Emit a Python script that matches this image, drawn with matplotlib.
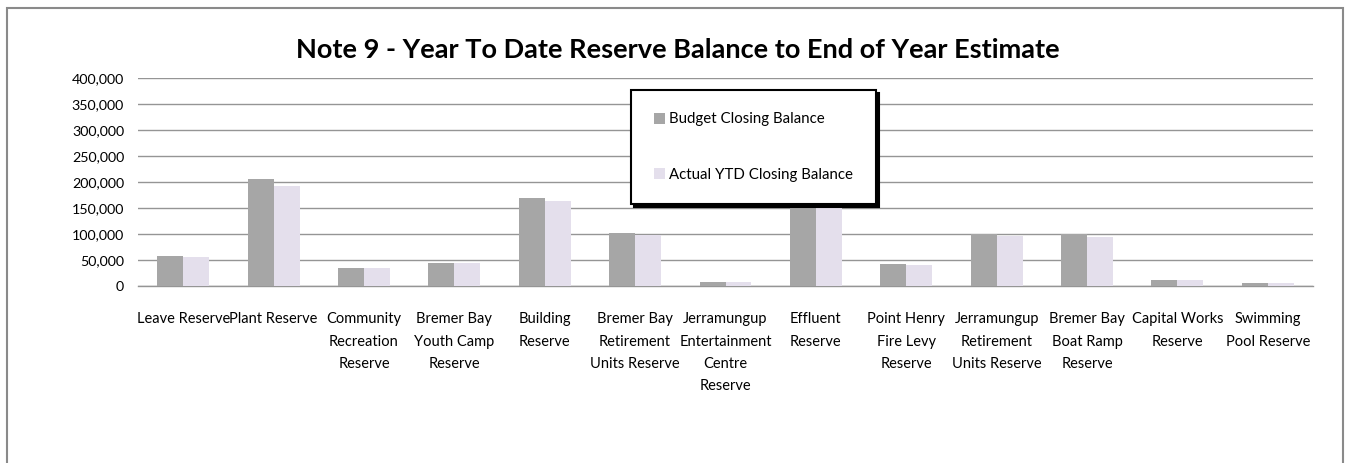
import matplotlib
matplotlib.use("Agg")
import matplotlib.pyplot as plt
import numpy as np
from matplotlib.patches import Rectangle
from matplotlib.ticker import FuncFormatter

categories = [
    "Leave Reserve", "Plant Reserve", "Community\nRecreation\nReserve",
    "Bremer Bay\nYouth Camp\nReserve", "Building\nReserve",
    "Bremer Bay\nRetirement\nUnits Reserve",
    "Jerramungup\nEntertainment\nCentre\nReserve", "Effluent\nReserve",
    "Point Henry\nFire Levy\nReserve", "Jerramungup\nRetirement\nUnits Reserve",
    "Bremer Bay\nBoat Ramp\nReserve", "Capital Works\nReserve",
    "Swimming\nPool Reserve",
]
budget = [58000, 206000, 35000, 44000, 169000, 102000, 7700, 185000,
          42000, 99500, 99500, 11500, 5800]
actual = [56000, 192000, 35000, 44000, 163000, 98000, 7500, 180000,
          40000, 96000, 94000, 11500, 5500]
series_names = ["Budget Closing Balance", "Actual YTD Closing Balance"]
yticks = [0, 50000, 100000, 150000, 200000, 250000, 300000, 350000, 400000]
title = "Note 9 - Year To Date Reserve Balance to End of Year Estimate"

W, H = 1349, 463
plt.rcParams['font.family'] = ['Lato', 'DejaVu Sans']
fig = plt.figure(figsize=(W / 100, H / 100), dpi=100)

# outer chart border
fig.patches.append(Rectangle((7 / W, -0.1), (1343 - 7) / W, 1.1 - 8 / H,
                             transform=fig.transFigure, fill=False,
                             edgecolor='#8a8a8a', linewidth=1.5))

ax = fig.add_axes([138 / W, (H - 286) / H, 1175 / W, 208 / H])
x = np.arange(len(categories))
bw = 0.2875
ax.bar(x - bw / 2, budget, width=bw, color='#A6A6A6', label=series_names[0], zorder=3)
ax.bar(x + bw / 2, actual, width=bw, color='#E4DFEC', label=series_names[1], zorder=3)

ax.set_xlim(-0.5, len(categories) - 0.5)
ax.set_ylim(0, 400000)
ax.set_yticks(yticks)
ax.yaxis.set_major_formatter(FuncFormatter(lambda v, p: f"{int(v):,}"))
ax.grid(axis='y', color='#959595', linewidth=1, zorder=0)
ax.set_axisbelow(True)
for s in ['left', 'right', 'top']:
    ax.spines[s].set_visible(False)
ax.spines['bottom'].set_color('#959595')
ax.spines['bottom'].set_linewidth(1)
ax.tick_params(axis='y', length=0, labelsize=10.3, pad=10)
ax.tick_params(axis='x', length=0, labelsize=10.5, pad=19)
ax.set_xticks(x)
ax.set_xticklabels(categories, linespacing=1.75, va='top')

fig.text(0.5 * (298 + 1057) / W, 1 - 50 / H, title, ha='center', va='center',
         fontsize=19.5, fontweight='bold')

leg = ax.legend(loc='upper left', bbox_to_anchor=(631 / W, 1 - 90 / H),
                bbox_transform=fig.transFigure, fontsize=10.8, handlelength=0.75,
                handleheight=0.75, handletextpad=0.3, labelspacing=2.75,
                borderpad=1.5, borderaxespad=0, fancybox=False, framealpha=1,
                shadow={'color': 'black', 'alpha': 1})
leg.get_frame().set_edgecolor('black')
leg.get_frame().set_linewidth(1.5)

fig.savefig("out.png", dpi=100)
